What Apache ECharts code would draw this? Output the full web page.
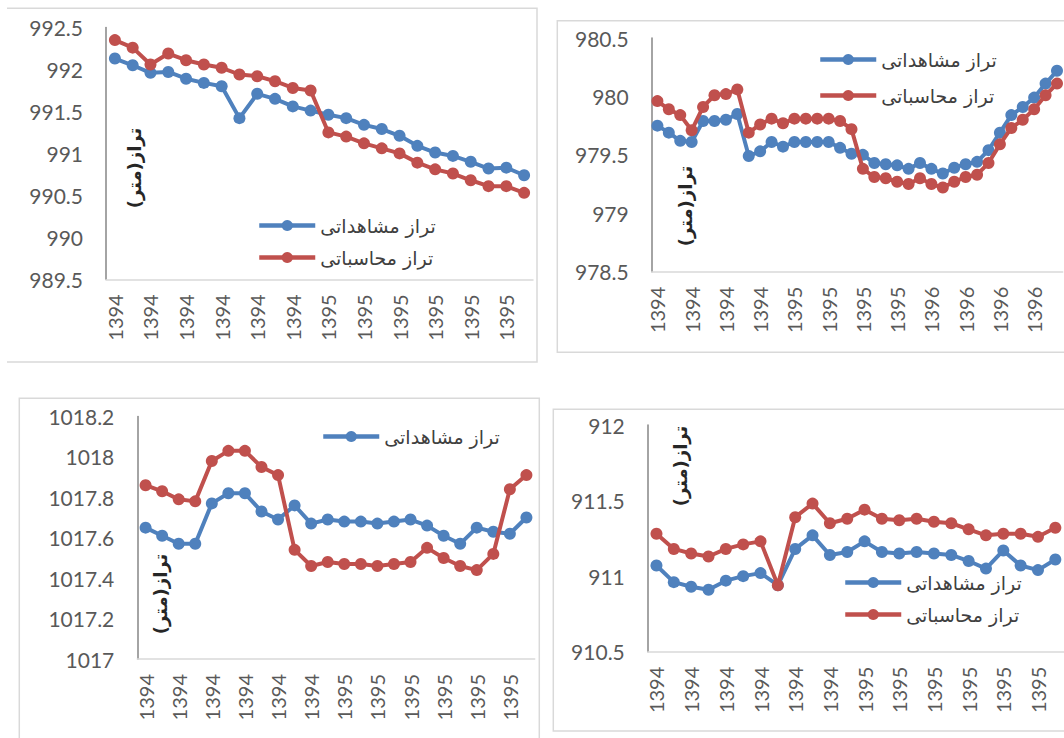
<!DOCTYPE html>
<html>
<head>
<meta charset="utf-8">
<script src="https://cdn.jsdelivr.net/npm/echarts@6/dist/echarts.min.js"></script>
<style>
  html, body { margin: 0; padding: 0; background: #ffffff; }
  #chart { width: 1064px; height: 738px; }
</style>
</head>
<body>
<div id="chart"></div>
<script>
// ---------- data ----------
const seriesNames = ['تراز مشاهداتی', 'تراز محاسباتی'];
const axisTitle = 'تراز(متر)';

const cats1 = ['1394','1394','1394','1394','1394','1394','1394','1394','1394','1394','1394','1394',
               '1395','1395','1395','1395','1395','1395','1395','1395','1395','1395','1395','1395'];
const obs1  = [992.13, 992.05, 991.96, 991.97, 991.89, 991.84, 991.80, 991.42, 991.71, 991.65, 991.56, 991.51,
               991.46, 991.42, 991.34, 991.29, 991.21, 991.09, 991.01, 990.97, 990.90, 990.82, 990.83, 990.74];
const calc1 = [992.35, 992.26, 992.06, 992.19, 992.11, 992.06, 992.02, 991.94, 991.92, 991.86, 991.78, 991.75,
               991.25, 991.20, 991.12, 991.06, 991.00, 990.89, 990.81, 990.76, 990.68, 990.61, 990.61, 990.53];

const cats2 = ['1394','1394','1394','1394','1394','1394','1394','1394','1394','1394','1394','1394',
               '1395','1395','1395','1395','1395','1395','1395','1395','1395','1395','1395','1395',
               '1396','1396','1396','1396','1396','1396','1396','1396','1396','1396','1396','1396'];
const obs2  = [979.75, 979.69, 979.62, 979.61, 979.79, 979.79, 979.80, 979.85, 979.49, 979.53, 979.61, 979.57,
               979.61, 979.61, 979.61, 979.61, 979.56, 979.51, 979.50, 979.43, 979.42, 979.41, 979.38, 979.43,
               979.38, 979.34, 979.39, 979.42, 979.44, 979.54, 979.69, 979.84, 979.91, 979.99, 980.11, 980.22];
const calc2 = [979.96, 979.89, 979.84, 979.71, 979.91, 980.01, 980.02, 980.06, 979.69, 979.76, 979.81, 979.77,
               979.81, 979.81, 979.81, 979.81, 979.79, 979.72, 979.38, 979.31, 979.30, 979.27, 979.25, 979.30,
               979.25, 979.22, 979.27, 979.31, 979.33, 979.43, 979.59, 979.73, 979.80, 979.89, 980.01, 980.11];

const cats3 = ['1394','1394','1394','1394','1394','1394','1394','1394','1394','1394','1394','1394',
               '1395','1395','1395','1395','1395','1395','1395','1395','1395','1395','1395','1395'];
const obs3  = [1017.65, 1017.61, 1017.57, 1017.57, 1017.77, 1017.82, 1017.82, 1017.73, 1017.69, 1017.76, 1017.67, 1017.69,
               1017.68, 1017.68, 1017.67, 1017.68, 1017.69, 1017.66, 1017.61, 1017.57, 1017.65, 1017.63, 1017.62, 1017.70];
const calc3 = [1017.86, 1017.83, 1017.79, 1017.78, 1017.98, 1018.03, 1018.03, 1017.95, 1017.91, 1017.54, 1017.46, 1017.48,
               1017.47, 1017.47, 1017.46, 1017.47, 1017.48, 1017.55, 1017.50, 1017.46, 1017.44, 1017.52, 1017.84, 1017.91];

const cats4 = ['1394','1394','1394','1394','1394','1394','1394','1394','1394','1394','1394','1394',
               '1395','1395','1395','1395','1395','1395','1395','1395','1395','1395','1395','1395'];
const obs4  = [911.07, 910.96, 910.93, 910.91, 910.97, 911.00, 911.02, 910.94, 911.18, 911.27, 911.14, 911.16,
               911.23, 911.16, 911.15, 911.16, 911.15, 911.14, 911.10, 911.05, 911.17, 911.07, 911.04, 911.11];
const calc4 = [911.28, 911.18, 911.15, 911.13, 911.18, 911.21, 911.23, 910.94, 911.39, 911.48, 911.35, 911.38,
               911.44, 911.38, 911.37, 911.38, 911.36, 911.35, 911.31, 911.27, 911.28, 911.28, 911.26, 911.32];

// y axis ranges [min, max, interval]
const yRange1 = [989.5, 992.5, 0.5];
const yRange2 = [978.5, 980.5, 0.5];
const yRange3 = [1017, 1018.2, 0.2];
const yRange4 = [910.5, 912, 0.5];

// ---------- styles ----------
const BLUE = '#4f81bd';
const RED = '#c0504d';
const LABEL = '#595959';
const NUMFONT = 'Lato, "Open Sans", sans-serif';
const ARFONT = '"DejaVu Sans", sans-serif';

const panels = [
  { grid: { left: 106, top: 27.5, width: 427, height: 251.8 }, cats: cats1, obs: obs1, calc: calc1, y: yRange1, xInt: 1 },
  { grid: { left: 651.7, top: 38, width: 411, height: 233.7 }, cats: cats2, obs: obs2, calc: calc2, y: yRange2, xInt: 2 },
  { grid: { left: 137.3, top: 416.5, width: 397.4, height: 242.5 }, cats: cats3, obs: obs3, calc: calc3, y: yRange3, xInt: 1 },
  { grid: { left: 647.8, top: 425, width: 416.5, height: 226.7 }, cats: cats4, obs: obs4, calc: calc4, y: yRange4, xInt: 1 }
];

const fmt = v => String(parseFloat(Number(v).toFixed(1)));

const option = {
  animation: false,
  backgroundColor: '#ffffff',
  grid: panels.map(p => Object.assign({ containLabel: false }, p.grid)),
  xAxis: panels.map((p, i) => ({
    type: 'category',
    gridIndex: i,
    data: p.cats,
    boundaryGap: true,
    axisTick: { show: false },
    axisLine: { lineStyle: { color: '#d9d9d9', width: 1.5 } },
    axisLabel: { rotate: 90, interval: p.xInt, margin: 15, color: LABEL, fontSize: 20, fontFamily: NUMFONT }
  })),
  yAxis: panels.map((p, i) => ({
    type: 'value',
    gridIndex: i,
    min: p.y[0], max: p.y[1], interval: p.y[2],
    splitLine: { show: false },
    axisTick: { show: false },
    axisLine: { show: true, lineStyle: { color: '#868686', width: 1.5 } },
    axisLabel: { margin: 23, color: LABEL, fontSize: 21, fontFamily: NUMFONT, formatter: fmt }
  })),
  legend: [
    { left: 252, top: 210, itemGap: 11 },
    { left: 813, top: 44, itemGap: 15 },
    { left: 316, top: 421, itemGap: 11, data: [seriesNames[0]] },
    { left: 838, top: 567, itemGap: 11 }
  ].map(l => Object.assign({
    orient: 'vertical',
    itemWidth: 56,
    itemHeight: 14,
    data: seriesNames,
    lineStyle: { width: 4.5 },
    itemStyle: { borderWidth: 0 },
    textStyle: { fontSize: 19, color: '#404040', fontFamily: ARFONT, lineHeight: 21 }
  }, l)),
  series: [],
  graphic: []
};

panels.forEach((p, i) => {
  option.series.push({
    name: seriesNames[0], type: 'line', xAxisIndex: i, yAxisIndex: i, data: p.obs,
    symbol: 'circle', symbolSize: 12, showSymbol: true, showAllSymbol: true,
    itemStyle: { color: BLUE }, lineStyle: { color: BLUE, width: 4 }, z: 2
  });
  option.series.push({
    name: seriesNames[1], type: 'line', xAxisIndex: i, yAxisIndex: i, data: p.calc,
    symbol: 'circle', symbolSize: 12, showSymbol: true, showAllSymbol: true,
    itemStyle: { color: RED }, lineStyle: { color: RED, width: 4 }, z: 3
  });
});

// panel frames
const frameStyle = { stroke: '#d9d9d9', lineWidth: 1.5, fill: null };
option.graphic.push(
  { type: 'polyline', shape: { points: [[7, 8.3], [537, 8.3], [537, 362], [7, 362]] }, style: frameStyle, silent: true },
  { type: 'polyline', shape: { points: [[1070, 20.7], [557.3, 20.7], [557.3, 352.3], [1070, 352.3]] }, style: frameStyle, silent: true },
  { type: 'polyline', shape: { points: [[19.3, 745], [19.3, 398.3], [539.3, 398.3], [539.3, 745]] }, style: frameStyle, silent: true },
  { type: 'polyline', shape: { points: [[1070, 409.3], [553.3, 409.3], [553.3, 731], [1070, 731]] }, style: frameStyle, silent: true }
);

// rotated y-axis titles inside the plots
[[134, 168], [685, 206], [160, 594], [680, 466]].forEach(pos => {
  option.graphic.push({
    type: 'text', x: pos[0], y: pos[1], rotation: Math.PI / 2, silent: true,
    style: {
      text: axisTitle, fill: '#262626', fontSize: 18, fontWeight: 'bold', fontFamily: ARFONT,
      align: 'center', verticalAlign: 'middle', textAlign: 'center', textVerticalAlign: 'middle'
    }
  });
});

const chart = echarts.init(document.getElementById('chart'), null, { renderer: 'svg', width: 1064, height: 738 });
chart.setOption(option);
</script>
</body>
</html>
